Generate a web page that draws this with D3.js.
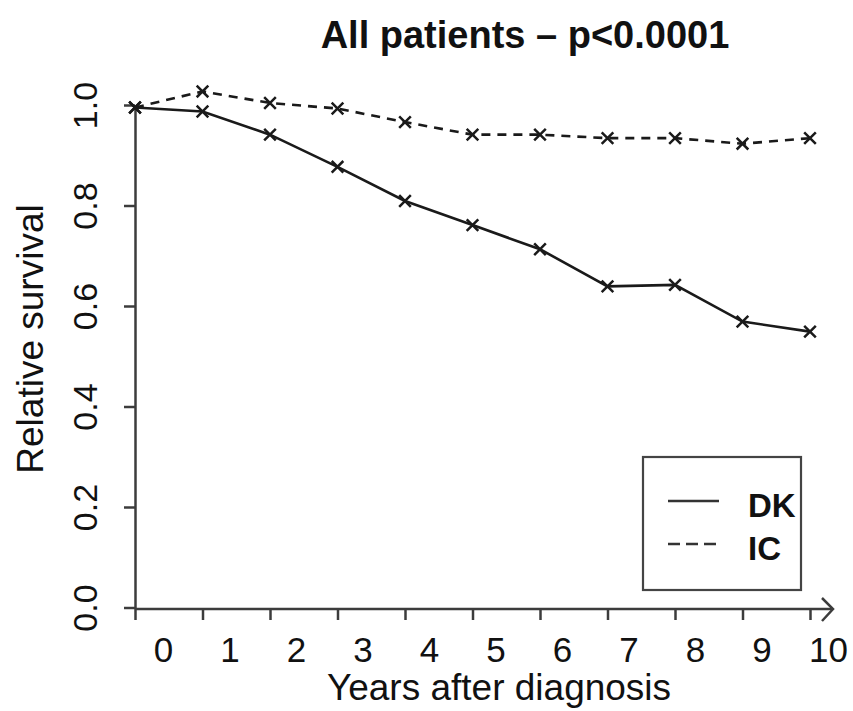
<!DOCTYPE html>
<html>
<head>
<meta charset="utf-8">
<script src="https://cdn.jsdelivr.net/npm/d3@7"></script>
<style>
  html, body { margin: 0; padding: 0; background: #fff; }
  svg { display: block; font-family: "Liberation Sans", Arial, Helvetica, sans-serif; }
</style>
</head>
<body>
<svg id="chart" width="853" height="711"></svg>
<script>
// Relative survival by years after diagnosis
const years = [0, 1, 2, 3, 4, 5, 6, 7, 8, 9, 10];
const dkSurvival = [0.995, 0.987, 0.941, 0.877, 0.809, 0.761, 0.713, 0.639, 0.642, 0.569, 0.549];
const icSurvival = [0.995, 1.027, 1.004, 0.993, 0.966, 0.941, 0.941, 0.934, 0.934, 0.923, 0.934];
const yTicks = [0.0, 0.2, 0.4, 0.6, 0.8, 1.0];
const yTickLabels = ["0.0", "0.2", "0.4", "0.6", "0.8", "1.0"];
const xTickLabels = ["0", "1", "2", "3", "4", "5", "6", "7", "8", "9", "10"];
const seriesNames = ["DK", "IC"];
const titleText = "All patients \u2013 p<0.0001";
const xTitle = "Years after diagnosis";
const yTitle = "Relative survival";

const svg = d3.select("#chart");
const axisColor = "#3c3c3c";
const lineColor = "#1a1a1a";

const x = d3.scaleLinear().domain([0, 10]).range([135, 810]);
const y = d3.scaleLinear().domain([0, 1]).range([607.5, 105]);
// tick labels sit on their own, slightly offset spacing
const xLabelScale = d3.scaleLinear().domain([0, 10]).range([163, 828]);

// Title
svg.append("text")
  .attr("x", 525).attr("y", 48)
  .attr("text-anchor", "middle")
  .attr("font-size", 38).attr("font-weight", "bold")
  .attr("fill", "#111")
  .text(titleText);

// Y axis
const yAxisG = svg.append("g").attr("transform", `translate(${x(0)},0)`)
  .call(d3.axisLeft(y).tickValues(yTicks).tickSize(11).tickSizeOuter(0)
    .tickFormat((d, i) => yTickLabels[i]));
yAxisG.select(".domain").attr("stroke", axisColor).attr("stroke-width", 2.5);
yAxisG.selectAll(".tick line").attr("stroke", axisColor).attr("stroke-width", 2.5);
yAxisG.selectAll(".tick text")
  .attr("x", null).attr("dy", null)
  .attr("text-anchor", "middle")
  .attr("transform", "translate(-38,0) rotate(-90)")
  .attr("font-size", 34)
  .attr("font-family", "Liberation Sans, Arial, sans-serif")
  .attr("fill", "#111");

// X axis ticks
const xAxisG = svg.append("g").attr("transform", `translate(0,${y(0) + 1.5})`)
  .call(d3.axisBottom(x).tickValues(years).tickSize(11).tickSizeOuter(0).tickFormat(""));
xAxisG.select(".domain").remove();
xAxisG.selectAll(".tick line").attr("stroke", axisColor).attr("stroke-width", 2.5);

// X axis line with open arrow head
const axisY = y(0) + 1.5;
const arrowTip = x(10) + 23;
svg.append("line")
  .attr("x1", x(0)).attr("x2", arrowTip)
  .attr("y1", axisY).attr("y2", axisY)
  .attr("stroke", axisColor).attr("stroke-width", 2.5);
svg.append("path")
  .attr("d", `M${arrowTip - 11},${axisY - 11}L${arrowTip},${axisY}L${arrowTip - 11},${axisY + 12}`)
  .attr("fill", "none").attr("stroke", axisColor).attr("stroke-width", 2.5);

// X tick labels
const xLabG = svg.append("g").attr("transform", `translate(0,${axisY})`)
  .call(d3.axisBottom(xLabelScale).tickValues(years).tickSize(0)
    .tickFormat((d, i) => xTickLabels[i]));
xLabG.select(".domain").remove();
xLabG.selectAll(".tick text")
  .attr("y", 52.5).attr("dy", null)
  .attr("font-size", 35)
  .attr("font-family", "Liberation Sans, Arial, sans-serif")
  .attr("fill", "#111");

// Axis titles
svg.append("text")
  .attr("x", 499).attr("y", 700)
  .attr("text-anchor", "middle")
  .attr("font-size", 37)
  .attr("fill", "#111")
  .text(xTitle);
svg.append("text")
  .attr("transform", "translate(43,339) rotate(-90)")
  .attr("text-anchor", "middle")
  .attr("font-size", 37)
  .attr("fill", "#111")
  .text(yTitle);

// Series
const series = [
  { name: seriesNames[0], values: dkSurvival, dash: null },
  { name: seriesNames[1], values: icSurvival, dash: "9,7" }
];
const line = d3.line().x((d, i) => x(years[i])).y(d => y(d));
const marker = d3.symbol().type(d3.symbolTimes).size(90);

series.forEach(s => {
  svg.append("path")
    .datum(s.values)
    .attr("d", line)
    .attr("fill", "none")
    .attr("stroke", lineColor)
    .attr("stroke-width", 2.6)
    .attr("stroke-dasharray", s.dash);
  svg.append("g").selectAll("path")
    .data(s.values)
    .join("path")
    .attr("transform", (d, i) => `translate(${x(years[i])},${y(d)})`)
    .attr("d", marker)
    .attr("fill", "none")
    .attr("stroke", lineColor)
    .attr("stroke-width", 2.5);
});

// Legend
const legend = svg.append("g").attr("transform", "translate(643,457)");
legend.append("rect")
  .attr("width", 158).attr("height", 133)
  .attr("fill", "#fff")
  .attr("stroke", "#444").attr("stroke-width", 2.2);
series.forEach((s, i) => {
  const ly = 44 + i * 43;
  legend.append("line")
    .attr("x1", 25).attr("x2", 76)
    .attr("y1", ly).attr("y2", ly)
    .attr("stroke", "#333").attr("stroke-width", 2.5)
    .attr("stroke-dasharray", s.dash ? "12,6" : null);
  legend.append("text")
    .attr("x", 105).attr("y", ly + 16)
    .attr("font-size", 33).attr("font-weight", "bold")
    .attr("fill", "#111")
    .text(s.name);
});
</script>
</body>
</html>
